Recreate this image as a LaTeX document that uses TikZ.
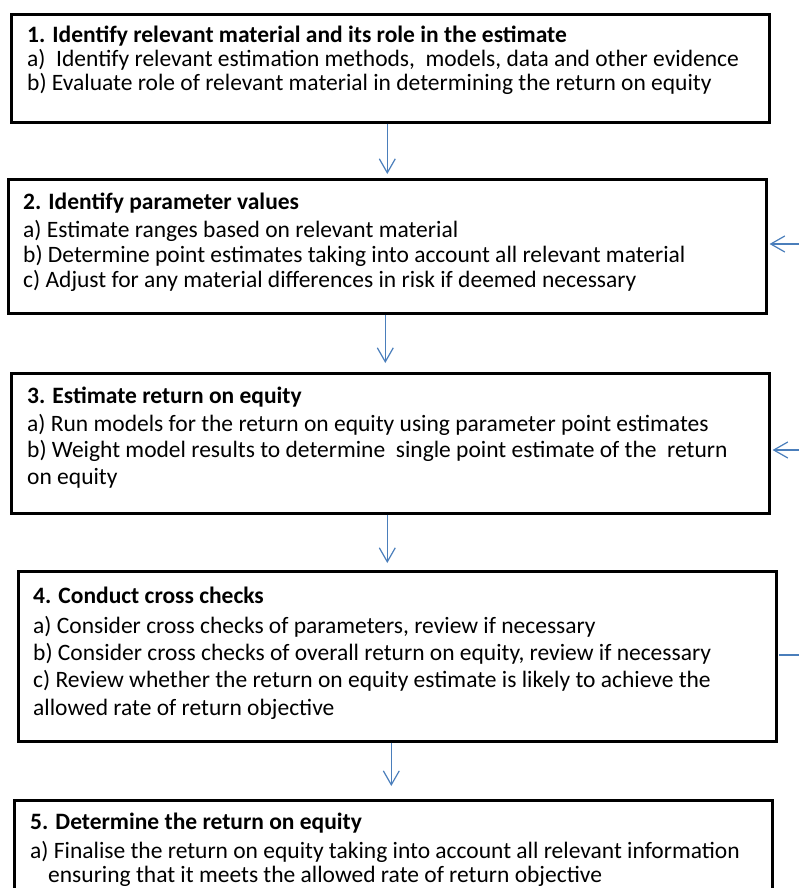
\documentclass[tikz,border=0pt]{standalone}
\usepackage{fontspec}
\setmainfont{Carlito}
\usetikzlibrary{arrows.meta}
\definecolor{arrblue}{RGB}{74,126,187}
\tikzset{
  box/.style={draw=black, line width=2.6pt, anchor=north west, inner sep=0pt},
  txt/.style={anchor=base west, inner sep=0pt, font=\fontsize{23.5}{26}\selectfont},
  hdr/.style={txt, font=\fontsize{23.5}{26}\selectfont\bfseries},
  arr/.style={draw=arrblue, line width=1.2pt, -{Straight Barb[length=14pt,width=16pt]}},
  bline/.style={draw=arrblue, line width=1.2pt}
}
\begin{document}
\begin{tikzpicture}[x=1pt,y=-1pt]
\clip (0,0) rectangle (799,888);
\useasboundingbox (0,0) rectangle (799,888);
% boxes
\node[box, minimum width=758pt, minimum height=108pt] (b1) at (10,13) {};
\node[box, minimum width=758pt, minimum height=134pt] (b2) at (7,178) {};
\node[box, minimum width=758pt, minimum height=140pt] (b3) at (10,372) {};
\node[box, minimum width=758pt, minimum height=170pt] (b4) at (17,570) {};
\node[box, minimum width=758pt, minimum height=100pt] (b5) at (13,799) {};
% box 1
\node[hdr] (t1h) at (27,43) {1. Identify relevant material and its role in the estimate};
\node[txt] (t1a) at (27,67) {a)\ \ Identify relevant estimation methods,\ \ models, data and other evidence};
\node[txt] (t1b) at (27,91) {b) Evaluate role of relevant material in determining the return on equity};
% box 2
\node[hdr] (t2h) at (23,209) {2. Identify parameter values};
\node[txt] (t2a) at (23,237) {a) Estimate ranges based on relevant material};
\node[txt] (t2b) at (23,262) {b) Determine point estimates taking into account all relevant material};
\node[txt] (t2c) at (23,287) {c) Adjust for any material differences in risk if deemed necessary};
% box 3
\node[hdr] (t3h) at (27,403) {3. Estimate return on equity};
\node[txt] (t3a) at (27,431) {a) Run models for the return on equity using parameter point estimates};
\node[txt] (t3b) at (27,457) {b) Weight model results to determine\ \ single point estimate of the\ \ return};
\node[txt] (t3c) at (27,484) {on equity};
% box 4
\node[hdr] (t4h) at (33,603) {4. Conduct cross checks};
\node[txt] (t4a) at (33,633) {a) Consider cross checks of parameters, review if necessary};
\node[txt] (t4b) at (33,660) {b) Consider cross checks of overall return on equity, review if necessary};
\node[txt] (t4c) at (33,687) {c) Review whether the return on equity estimate is likely to achieve the};
\node[txt] (t4d) at (33,715) {allowed rate of return objective};
% box 5
\node[hdr] (t5h) at (30,829) {5. Determine the return on equity};
\node[txt] (t5a) at (30,858) {a) Finalise the return on equity taking into account all relevant information};
\node[txt] (t5b) at (48,882) {ensuring that it meets the allowed rate of return objective};
% vertical arrows
\draw[arr] ([xshift=-3pt]b1.south) -- ([xshift=-3pt,yshift=4pt]b1.south |- b2.north);
\draw[arr] ([xshift=-2pt]b2.south) -- ([xshift=-2pt,yshift=9pt]b2.south |- b3.north);
\draw[arr] ([xshift=-3pt]b3.south) -- ([xshift=-3pt,yshift=7pt]b3.south |- b4.north);
\draw[arr] ([xshift=-6pt]b4.south) -- ([xshift=-6pt,yshift=13pt]b4.south |- b5.north);
% feedback arrows from right
\coordinate (r2) at (799,244);
\coordinate (r3) at (799,450);
\coordinate (r4) at (799,655);
\draw[arr] (r2) -- ([xshift=2pt]r2 -| b2.east);
\draw[arr] (r3) -- ([xshift=2pt]r3 -| b3.east);
\draw[bline] (r4) -- ([xshift=1pt]r4 -| b4.east);
\end{tikzpicture}
\end{document}
